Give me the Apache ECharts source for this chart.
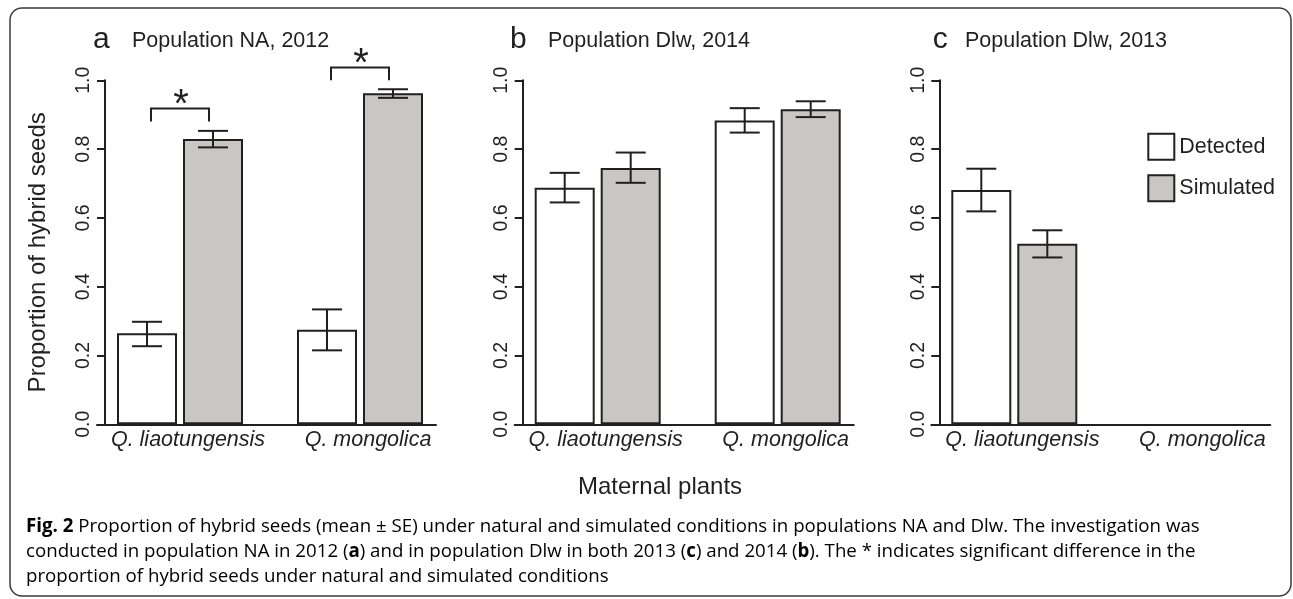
<!DOCTYPE html>
<html>
<head>
<meta charset="utf-8">
<script src="https://cdn.jsdelivr.net/npm/echarts@6/dist/echarts.min.js"></script>
<style>
html,body{margin:0;padding:0;background:#fff;}
#chart{width:1293px;height:599px;}
</style>
</head>
<body>
<div id="chart"></div>
<script>
// ---------- DATA ----------
const categories = ['Q. liaotungensis', 'Q. mongolica'];
const seriesNames = ['Detected', 'Simulated'];
const panelLetters = ['a', 'b', 'c'];
const panelTitles = ['Population NA, 2012', 'Population Dlw, 2014', 'Population Dlw, 2013'];
const yTicks = [0, 0.2, 0.4, 0.6, 0.8, 1.0];

// Panel a (NA, 2012)
const detectedA = [0.265, 0.275];
const detectedA_lo = [0.227, 0.215];
const detectedA_hi = [0.298, 0.334];
const simulatedA = [0.829, 0.962];
const simulatedA_lo = [0.805, 0.949];
const simulatedA_hi = [0.853, 0.974];
// significance brackets in panel a: leg bottom and bracket top
const sigLegA = [0.880, 1.000];
const sigTopA = [0.918, 1.037];

// Panel b (Dlw, 2014)
const detectedB = [0.688, 0.883];
const detectedB_lo = [0.645, 0.848];
const detectedB_hi = [0.731, 0.919];
const simulatedB = [0.745, 0.916];
const simulatedB_lo = [0.702, 0.893];
const simulatedB_hi = [0.790, 0.939];

// Panel c (Dlw, 2013) — no data for Q. mongolica
const detectedC = [0.681, null];
const detectedC_lo = [0.619, null];
const detectedC_hi = [0.743, null];
const simulatedC = [0.525, null];
const simulatedC_lo = [0.485, null];
const simulatedC_hi = [0.564, null];

// ---------- LAYOUT / STYLE ----------
const INK = '#231f20';
const GRAY = '#c8c7c3';
const FONT = '"Liberation Sans", Arial, sans-serif';
const yAxisX = [105, 522.7, 939.3];
const GRID_TOP = 80.3, GRID_H = 344;
const LEFT_EXT = 8, AXIS_LEN = 339, GROUP0 = 75, GROUP_STEP = 180;
const BAR_W = 60, BAR_GAP_PX = 6;
const HALF_OFF = (BAR_W + BAR_GAP_PX) / 2;
const CAP_HALF = 15;
const BRACKET_HALF = 29;

const panels = [
  {det: detectedA, detLo: detectedA_lo, detHi: detectedA_hi, sim: simulatedA, simLo: simulatedA_lo, simHi: simulatedA_hi},
  {det: detectedB, detLo: detectedB_lo, detHi: detectedB_hi, sim: simulatedB, simLo: simulatedB_lo, simHi: simulatedB_hi},
  {det: detectedC, detLo: detectedC_lo, detHi: detectedC_hi, sim: simulatedC, simLo: simulatedC_lo, simHi: simulatedC_hi}
];

const chart = echarts.init(document.getElementById('chart'), null, {renderer: 'canvas'});

const grids = [], xAxes = [], yAxes = [], series = [], titles = [];
const xMin = -(GROUP0 + LEFT_EXT) / GROUP_STEP;
const xMax = (AXIS_LEN - GROUP0 - LEFT_EXT) / GROUP_STEP;

function errRender(offset) {
  return function (params, api) {
    const x = api.value(0), lo = api.value(1), hi = api.value(2);
    if (isNaN(lo) || isNaN(hi)) return null;
    const pHi = api.coord([x, hi]);
    const pLo = api.coord([x, lo]);
    const cx = pHi[0] + offset;
    const st = {stroke: INK, lineWidth: 2, fill: null};
    return {
      type: 'group',
      children: [
        {type: 'line', shape: {x1: cx, y1: pHi[1], x2: cx, y2: pLo[1]}, style: st},
        {type: 'line', shape: {x1: cx - CAP_HALF, y1: pHi[1], x2: cx + CAP_HALF, y2: pHi[1]}, style: st},
        {type: 'line', shape: {x1: cx - CAP_HALF, y1: pLo[1], x2: cx + CAP_HALF, y2: pLo[1]}, style: st}
      ]
    };
  };
}

function bracketRender(params, api) {
  const x = api.value(0), leg = api.value(1), top = api.value(2);
  const pTop = api.coord([x, top]);
  const pLeg = api.coord([x, leg]);
  const xl = pTop[0] - BRACKET_HALF, xr = pTop[0] + BRACKET_HALF;
  return {
    type: 'group',
    children: [
      {type: 'polyline', shape: {points: [[xl, pLeg[1]], [xl, pTop[1]], [xr, pTop[1]], [xr, pLeg[1]]]},
       style: {stroke: INK, lineWidth: 2, fill: null}},
      {type: 'text', style: {text: '*', x: pTop[0] + 1, y: pTop[1] - 3, align: 'center', verticalAlign: 'middle',
        fontSize: 40, fontFamily: FONT, fill: INK}}
    ]
  };
}

panels.forEach((p, i) => {
  grids.push({left: yAxisX[i] - LEFT_EXT, top: GRID_TOP, width: AXIS_LEN, height: GRID_H, containLabel: false});
  xAxes.push({
    type: 'value', gridIndex: i, min: xMin, max: xMax,
    axisLine: {show: true, onZero: false, lineStyle: {color: INK, width: 2}},
    axisTick: {show: false},
    splitLine: {show: false},
    axisLabel: {
      show: true, customValues: [0, 1],
      formatter: v => categories[Math.round(v)],
      fontStyle: 'italic', fontSize: 21.5, fontFamily: FONT, color: INK, margin: 5,
      padding: [0, 0, 0, 16]
    }
  });
  yAxes.push({
    type: 'value', gridIndex: i, min: 0, max: 1, interval: 0.2, offset: -LEFT_EXT,
    name: i === 0 ? 'Proportion of hybrid seeds' : '',
    nameLocation: 'middle', nameGap: 55,
    nameTextStyle: {fontSize: 24, fontFamily: FONT, color: INK},
    axisLine: {show: true, onZero: false, lineStyle: {color: INK, width: 2}},
    axisTick: {show: true, length: 8, lineStyle: {color: INK, width: 2}},
    splitLine: {show: false},
    axisLabel: {rotate: 90, fontSize: 19.5, fontFamily: FONT, color: INK, margin: 11,
      customValues: yTicks, formatter: v => v.toFixed(1)}
  });
  series.push({
    name: seriesNames[0], type: 'bar', xAxisIndex: i, yAxisIndex: i,
    barWidth: BAR_W, barGap: (BAR_GAP_PX / BAR_W * 100) + '%',
    itemStyle: {color: '#ffffff', borderColor: INK, borderWidth: 2},
    data: categories.map((c, j) => [j, p.det[j]]),
    silent: true
  });
  series.push({
    name: seriesNames[1], type: 'bar', xAxisIndex: i, yAxisIndex: i,
    barWidth: BAR_W, barGap: (BAR_GAP_PX / BAR_W * 100) + '%',
    itemStyle: {color: GRAY, borderColor: INK, borderWidth: 2},
    data: categories.map((c, j) => [j, p.sim[j]]),
    silent: true
  });
  series.push({
    name: 'err-det-' + i, type: 'custom', xAxisIndex: i, yAxisIndex: i, clip: false, z: 5,
    renderItem: errRender(-HALF_OFF),
    data: categories.map((c, j) => [j, p.detLo[j], p.detHi[j]]).filter(d => d[1] != null),
    silent: true
  });
  series.push({
    name: 'err-sim-' + i, type: 'custom', xAxisIndex: i, yAxisIndex: i, clip: false, z: 5,
    renderItem: errRender(HALF_OFF),
    data: categories.map((c, j) => [j, p.simLo[j], p.simHi[j]]).filter(d => d[1] != null),
    silent: true
  });
});

series.push({
  name: 'sig-a', type: 'custom', xAxisIndex: 0, yAxisIndex: 0, clip: false, z: 6,
  renderItem: bracketRender,
  data: categories.map((c, j) => [j, sigLegA[j], sigTopA[j]]),
  silent: true
});

const letterLeft = [93, 510, 932.7];
const titleLeft = [132, 548, 965];
panelLetters.forEach((l, i) => {
  titles.push({text: l, left: letterLeft[i], top: 24.5, padding: 0,
    textStyle: {fontSize: 30, fontWeight: 'normal', fontFamily: FONT, color: INK}});
  titles.push({text: panelTitles[i], left: titleLeft[i], top: 30.5, padding: 0,
    textStyle: {fontSize: 21.5, fontWeight: 'normal', fontFamily: FONT, color: INK}});
});
titles.push({text: 'Maternal plants', left: 578, top: 475.5, padding: 0,
  textStyle: {fontSize: 24, fontWeight: 'normal', fontFamily: FONT, color: INK}});

// Caption
const CAP_FONT = '"Open Sans", "Noto Sans", sans-serif';
const cap1b = 'Fig. 2';
const cap1 = ' Proportion of hybrid seeds (mean \u00b1 SE) under natural and simulated conditions in populations NA and Dlw. The investigation was';
const cap2parts = [['n', 'conducted in population NA in 2012 ('], ['b', 'a'], ['n', ') and in population Dlw in both 2013 ('], ['b', 'c'],
  ['n', ') and 2014 ('], ['b', 'b'], ['n', '). The * indicates significant difference in the']];
const cap3 = 'proportion of hybrid seeds under natural and simulated conditions';
const mctx = document.createElement('canvas').getContext('2d');
function mw(t, weight) { mctx.font = weight + ' 100px ' + CAP_FONT; return mctx.measureText(t).width; }
let capFs = 100 * 1174 / (mw(cap1b, 'bold') + mw(cap1, 'normal'));
if (!isFinite(capFs) || capFs < 12 || capFs > 22) capFs = 16.5;
const CAP_COLOR = '#333333';
const capRich = {
  n: {fontSize: capFs, fontFamily: CAP_FONT, color: CAP_COLOR},
  b: {fontSize: capFs, fontFamily: CAP_FONT, color: '#222', fontWeight: 'bold'}
};
const capLine1 = '{b|' + cap1b + '}{n|' + cap1 + '}';
const capLine2 = cap2parts.map(pp => '{' + pp[0] + '|' + pp[1] + '}').join('');
const capLine3 = '{n|' + cap3 + '}';

const option = {
  animation: false,
  backgroundColor: '#ffffff',
  title: titles,
  legend: {
    data: seriesNames, orient: 'vertical', left: 1147.3, top: 132.7, padding: 0,
    itemWidth: 26, itemHeight: 26, itemGap: 13.5, selectedMode: false, icon: 'rect',
    itemStyle: {borderColor: INK, borderWidth: 2},
    textStyle: {fontSize: 21.5, fontFamily: FONT, color: INK}
  },
  grid: grids,
  xAxis: xAxes,
  yAxis: yAxes,
  series: series,
  graphic: [
    {type: 'rect', shape: {x: 10, y: 8, width: 1281, height: 588, r: 12}, silent: true,
     style: {fill: null, stroke: '#3a3a3a', lineWidth: 1.5}},
    {type: 'text', x: 26, y: 527, silent: true, style: {text: capLine1, rich: capRich, verticalAlign: 'middle'}},
    {type: 'text', x: 26, y: 552, silent: true, style: {text: capLine2, rich: capRich, verticalAlign: 'middle'}},
    {type: 'text', x: 26, y: 577, silent: true, style: {text: capLine3, rich: capRich, verticalAlign: 'middle'}}
  ]
};
chart.setOption(option);
</script>
</body>
</html>
